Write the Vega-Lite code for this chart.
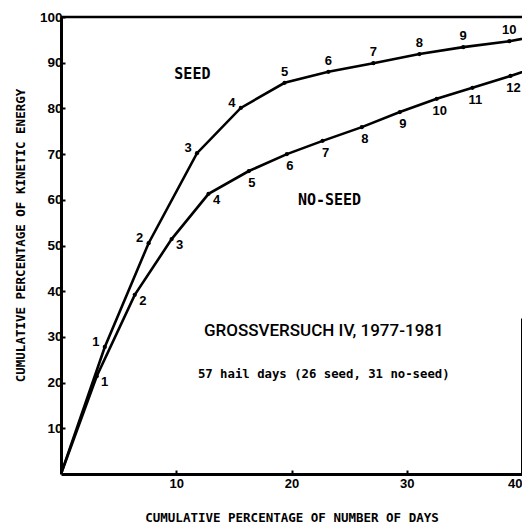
{
  "$schema": "https://vega.github.io/schema/vega-lite/v6.json",
  "width": 461,
  "height": 457,
  "autosize": {"type": "none"},
  "padding": {"left": 61, "top": 17, "right": 0, "bottom": 50},
  "background": "white",
  "config": {"view": {"stroke": null}},
  "datasets": {
    "curves": [
      {"series": "seed", "k": 0, "x": 0, "y": 0},
      {"series": "seed", "k": 1, "x": 3.8, "y": 27.8},
      {"series": "seed", "k": 2, "x": 7.6, "y": 50.5},
      {"series": "seed", "k": 3, "x": 11.8, "y": 70.2},
      {"series": "seed", "k": 4, "x": 15.6, "y": 80.1},
      {"series": "seed", "k": 5, "x": 19.4, "y": 85.6},
      {"series": "seed", "k": 6, "x": 23.2, "y": 88.0},
      {"series": "seed", "k": 7, "x": 27.1, "y": 89.9},
      {"series": "seed", "k": 8, "x": 31.1, "y": 91.9},
      {"series": "seed", "k": 9, "x": 34.9, "y": 93.4},
      {"series": "seed", "k": 10, "x": 38.9, "y": 94.7},
      {"series": "seed", "k": 11, "x": 42.3, "y": 96.3},
      {"series": "no-seed", "k": 0, "x": 0, "y": 0},
      {"series": "no-seed", "k": 1, "x": 3.1, "y": 21.4},
      {"series": "no-seed", "k": 2, "x": 6.4, "y": 39.2},
      {"series": "no-seed", "k": 3, "x": 9.6, "y": 51.4},
      {"series": "no-seed", "k": 4, "x": 12.8, "y": 61.3},
      {"series": "no-seed", "k": 5, "x": 16.3, "y": 66.3},
      {"series": "no-seed", "k": 6, "x": 19.6, "y": 70.0},
      {"series": "no-seed", "k": 7, "x": 22.7, "y": 72.9},
      {"series": "no-seed", "k": 8, "x": 26.1, "y": 75.9},
      {"series": "no-seed", "k": 9, "x": 29.4, "y": 79.2},
      {"series": "no-seed", "k": 10, "x": 32.6, "y": 82.1},
      {"series": "no-seed", "k": 11, "x": 35.7, "y": 84.5},
      {"series": "no-seed", "k": 12, "x": 39.0, "y": 87.1},
      {"series": "no-seed", "k": 13, "x": 41.9, "y": 89.6}
    ]
  },
  "layer": [
    {
      "data": {"name": "curves"},
      "mark": {"type": "line", "color": "black", "strokeWidth": 2.6, "clip": true},
      "encoding": {
        "x": {
          "field": "x", "type": "quantitative",
          "scale": {"domain": [0, 40], "nice": false, "zero": false},
          "axis": {
            "values": [10, 20, 30, 40],
            "title": "CUMULATIVE PERCENTAGE OF NUMBER OF DAYS",
            "grid": false,
            "domainColor": "black", "domainWidth": 3,
            "tickColor": "black", "tickWidth": 2, "tickSize": -4,
            "labelFont": "Liberation Sans", "labelFontWeight": "bold", "labelFontSize": 13,
            "labelColor": "black", "labelPadding": 7,
            "titleFont": "DejaVu Sans Mono", "titleFontWeight": "bold", "titleFontSize": 12.5,
            "titleColor": "black",
            "titleX": 230.5, "titleY": 43, "titleAlign": "center", "titleBaseline": "middle"
          }
        },
        "y": {
          "field": "y", "type": "quantitative",
          "scale": {"domain": [0, 100], "nice": false, "zero": false},
          "axis": {
            "values": [10, 20, 30, 40, 50, 60, 70, 80, 90, 100],
            "title": "CUMULATIVE PERCENTAGE OF KINETIC ENERGY",
            "grid": false,
            "domainColor": "black", "domainWidth": 3,
            "tickColor": "black", "tickWidth": 2, "tickSize": -4,
            "labelFont": "Liberation Sans", "labelFontWeight": "bold", "labelFontSize": 13.5,
            "labelColor": "black", "labelPadding": 3,
            "titleFont": "DejaVu Sans Mono", "titleFontWeight": "bold", "titleFontSize": 12.5,
            "titleColor": "black",
            "titleX": -41, "titleY": 218, "titleAngle": -90, "titleAlign": "center", "titleBaseline": "middle"
          }
        },
        "detail": {"field": "series"}
      }
    },
    {
      "data": {"name": "curves"},
      "transform": [{"filter": "datum.k > 0 && datum.x < 40"}],
      "mark": {"type": "circle", "color": "black", "size": 18, "opacity": 1},
      "encoding": {
        "x": {"field": "x", "type": "quantitative"},
        "y": {"field": "y", "type": "quantitative"}
      }
    },
    {
      "data": {"name": "curves"},
      "transform": [{"filter": "datum.series == 'seed' && datum.k > 0 && datum.k <= 4"}],
      "mark": {"type": "text", "font": "Liberation Sans", "fontWeight": "bold", "fontSize": 13, "color": "black", "dx": -9, "dy": -5},
      "encoding": {
        "x": {"field": "x", "type": "quantitative"},
        "y": {"field": "y", "type": "quantitative"},
        "text": {"field": "k"}
      }
    },
    {
      "data": {"name": "curves"},
      "transform": [{"filter": "datum.series == 'seed' && datum.k >= 5 && datum.x < 40"}],
      "mark": {"type": "text", "font": "Liberation Sans", "fontWeight": "bold", "fontSize": 13, "color": "black", "dx": 0, "dy": -11},
      "encoding": {
        "x": {"field": "x", "type": "quantitative"},
        "y": {"field": "y", "type": "quantitative"},
        "text": {"field": "k"}
      }
    },
    {
      "data": {"name": "curves"},
      "transform": [{"filter": "datum.series == 'no-seed' && datum.k > 0 && datum.k <= 4"}],
      "mark": {"type": "text", "font": "Liberation Sans", "fontWeight": "bold", "fontSize": 13, "color": "black", "dx": 8, "dy": 6},
      "encoding": {
        "x": {"field": "x", "type": "quantitative"},
        "y": {"field": "y", "type": "quantitative"},
        "text": {"field": "k"}
      }
    },
    {
      "data": {"name": "curves"},
      "transform": [{"filter": "datum.series == 'no-seed' && datum.k >= 5 && datum.x < 40"}],
      "mark": {"type": "text", "font": "Liberation Sans", "fontWeight": "bold", "fontSize": 13, "color": "black", "dx": 3, "dy": 12},
      "encoding": {
        "x": {"field": "x", "type": "quantitative"},
        "y": {"field": "y", "type": "quantitative"},
        "text": {"field": "k"}
      }
    },
    {
      "data": {"values": [{"label": "SEED", "x": 11.4, "y": 87.5}, {"label": "NO-SEED", "x": 23.3, "y": 60}]},
      "mark": {"type": "text", "font": "DejaVu Sans Mono", "fontWeight": "bold", "fontSize": 15, "color": "black", "baseline": "middle"},
      "encoding": {
        "x": {"field": "x", "type": "quantitative"},
        "y": {"field": "y", "type": "quantitative"},
        "text": {"field": "label"}
      }
    },
    {
      "data": {"values": [{"label": "GROSSVERSUCH IV, 1977-1981", "x": 22.8, "y": 31.3}]},
      "mark": {"type": "text", "font": "Roboto", "fontWeight": 500, "fontSize": 17, "color": "black", "baseline": "middle"},
      "encoding": {
        "x": {"field": "x", "type": "quantitative"},
        "y": {"field": "y", "type": "quantitative"},
        "text": {"field": "label"}
      }
    },
    {
      "data": {"values": [{"label": "57 hail days (26 seed, 31 no-seed)", "x": 22.8, "y": 21.9}]},
      "mark": {"type": "text", "font": "DejaVu Sans Mono", "fontWeight": "bold", "fontSize": 12.3, "color": "black", "baseline": "middle"},
      "encoding": {
        "x": {"field": "x", "type": "quantitative"},
        "y": {"field": "y", "type": "quantitative"},
        "text": {"field": "label"}
      }
    },
    {
      "data": {"values": [{"y": 100}]},
      "mark": {"type": "rule", "color": "black", "strokeWidth": 2.5},
      "encoding": {"y": {"field": "y", "type": "quantitative"}}
    },
    {
      "data": {"values": [{"x": 40, "y": 0, "y2": 34}]},
      "mark": {"type": "rule", "color": "black", "strokeWidth": 2},
      "encoding": {
        "x": {"field": "x", "type": "quantitative"},
        "y": {"field": "y", "type": "quantitative"},
        "y2": {"field": "y2"}
      }
    }
  ]
}
